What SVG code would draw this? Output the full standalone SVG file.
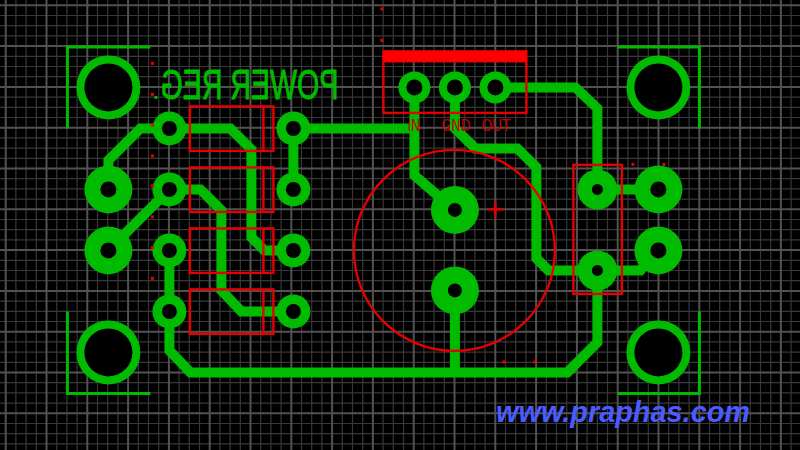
<svg xmlns="http://www.w3.org/2000/svg" width="800" height="450" viewBox="0 0 800 450">
<style>
.tr{fill:none;stroke:#00bb00;stroke-width:10;stroke-linejoin:miter}
.pad{fill:#00bb00}
.hole{fill:#000}
.sil{fill:none;stroke:#e60000;stroke-width:2.400}
.br{fill:none;stroke:#00bb00;stroke-width:3}
.dot{fill:#e60000}
.lbl{font-family:"DejaVu Sans",sans-serif;font-size:16px;fill:#c80000}
</style>
<rect width="800" height="450" fill="#000"/>
<path fill="none" stroke="#383838" stroke-width="1.2" d="M15.9 0V450M26.100 0V450M36.300 0V450M56.700 0V450M66.900 0V450M77.100 0V450M97.500 0V450M107.700 0V450M117.900 0V450M138.300 0V450M148.500 0V450M158.700 0V450M179.100 0V450M189.300 0V450M199.500 0V450M219.900 0V450M230.100 0V450M240.300 0V450M260.700 0V450M270.900 0V450M281.100 0V450M301.500 0V450M311.700 0V450M321.900 0V450M342.300 0V450M352.500 0V450M362.700 0V450M383.100 0V450M393.300 0V450M403.500 0V450M423.900 0V450M434.100 0V450M444.300 0V450M464.700 0V450M474.900 0V450M485.100 0V450M505.500 0V450M515.700 0V450M525.900 0V450M546.300 0V450M556.500 0V450M566.700 0V450M587.100 0V450M597.300 0V450M607.500 0V450M627.900 0V450M638.100 0V450M648.300 0V450M668.700 0V450M678.900 0V450M689.100 0V450M709.500 0V450M719.700 0V450M729.900 0V450M750.300 0V450M760.500 0V450M770.700 0V450M791.100 0V450M0 15.500H800M0 25.700H800M0 35.900H800M0 56.300H800M0 66.500H800M0 76.700H800M0 97.100H800M0 107.300H800M0 117.500H800M0 137.900H800M0 148.100H800M0 158.300H800M0 178.700H800M0 188.900H800M0 199.100H800M0 219.500H800M0 229.700H800M0 239.900H800M0 260.300H800M0 270.500H800M0 280.700H800M0 301.100H800M0 311.300H800M0 321.500H800M0 341.900H800M0 352.100H800M0 362.300H800M0 382.700H800M0 392.900H800M0 403.100H800M0 423.500H800M0 433.700H800M0 443.900H800"/>
<path fill="none" stroke="#525252" stroke-width="2" d="M5.700 0V450M46.500 0V450M87.300 0V450M128.100 0V450M168.900 0V450M209.700 0V450M250.500 0V450M291.300 0V450M332.100 0V450M372.900 0V450M413.700 0V450M454.500 0V450M495.300 0V450M536.100 0V450M576.900 0V450M617.700 0V450M658.500 0V450M699.300 0V450M740.100 0V450M780.900 0V450M0 5.300H800M0 46.100H800M0 86.900H800M0 127.700H800M0 168.500H800M0 209.300H800M0 250.100H800M0 290.900H800M0 331.700H800M0 372.500H800M0 413.300H800"/>
<g transform="translate(0.400 0.400)">
<g id="connectors">
<path class="tr" d="M108 189V160L140 128H230L251 149V237L264 250H293"/>
<path class="tr" d="M108 250L169 189H200L221 210V290L241 311H293"/>
<path class="tr" d="M169 250V350L190 372H567L597 342V270"/>
<path class="tr" d="M454.500 290V372"/>
<path class="tr" d="M293 189V128H414"/>
<path class="tr" d="M454.500 210L414 175V87"/>
<path class="tr" d="M454.500 87V128L475 148H517L536 167V258L548 270H640L658 250"/>
<path class="tr" d="M495 87H575L597 108V189H658"/>
</g>
<g id="silkscreen-copper">
<path class="br" d="M150 46.500H67V128"/>
<path class="br" d="M617 46.500H699V128"/>
<path class="br" d="M67 311V393H150"/>
<path class="br" d="M617 393H699V311"/>
<text transform="translate(338 98.500) scale(-1 1)" textLength="178" lengthAdjust="spacingAndGlyphs" font-family="Liberation Sans, sans-serif" font-size="42" fill="#00bb00" stroke="#00bb00" stroke-width="0.9">POWER REG</text>
<rect x="154" y="95.500" width="3" height="3" fill="#00bb00"/>
</g>
<g id="M1"><circle class="pad" cx="108" cy="87" r="32"/><circle class="hole" cx="108" cy="87" r="24"/></g>
<g id="M2"><circle class="pad" cx="658" cy="87" r="32"/><circle class="hole" cx="658" cy="87" r="24"/></g>
<g id="M3"><circle class="pad" cx="108" cy="352" r="32"/><circle class="hole" cx="108" cy="352" r="24"/></g>
<g id="M4"><circle class="pad" cx="658" cy="352" r="32"/><circle class="hole" cx="658" cy="352" r="24"/></g>
<g id="J1"><circle class="pad" cx="108" cy="189" r="24"/><circle class="hole" cx="108" cy="189" r="8"/><circle class="pad" cx="108" cy="250" r="24"/><circle class="hole" cx="108" cy="250" r="8"/></g>
<g id="J2"><circle class="pad" cx="658" cy="189" r="24"/><circle class="hole" cx="658" cy="189" r="8"/><circle class="pad" cx="658" cy="250" r="24"/><circle class="hole" cx="658" cy="250" r="8"/></g>
<g id="R1"><circle class="pad" cx="169" cy="128" r="17"/><circle class="hole" cx="169" cy="128" r="7.500"/><circle class="pad" cx="293" cy="128" r="17"/><circle class="hole" cx="293" cy="128" r="7.500"/></g>
<g id="R2"><circle class="pad" cx="169" cy="189" r="17"/><circle class="hole" cx="169" cy="189" r="7.500"/><circle class="pad" cx="293" cy="189" r="17"/><circle class="hole" cx="293" cy="189" r="7.500"/></g>
<g id="R3"><circle class="pad" cx="169" cy="250" r="17"/><circle class="hole" cx="169" cy="250" r="7.500"/><circle class="pad" cx="293" cy="250" r="17"/><circle class="hole" cx="293" cy="250" r="7.500"/></g>
<g id="R4"><circle class="pad" cx="169" cy="311" r="17"/><circle class="hole" cx="169" cy="311" r="7.500"/><circle class="pad" cx="293" cy="311" r="17"/><circle class="hole" cx="293" cy="311" r="7.500"/></g>
<g id="U1"><circle class="pad" cx="414" cy="87" r="16"/><circle class="hole" cx="414" cy="87" r="8"/><circle class="pad" cx="454.500" cy="87" r="16"/><circle class="hole" cx="454.500" cy="87" r="8"/><circle class="pad" cx="495" cy="87" r="16"/><circle class="hole" cx="495" cy="87" r="8"/></g>
<g id="C1"><circle class="pad" cx="454.500" cy="209.500" r="24"/><circle class="hole" cx="454.500" cy="209.500" r="7"/><circle class="pad" cx="454.500" cy="290" r="24"/><circle class="hole" cx="454.500" cy="290" r="7"/></g>
<g id="C2"><circle class="pad" cx="597" cy="189" r="20"/><circle class="hole" cx="597" cy="189" r="5.500"/><circle class="pad" cx="597" cy="270" r="20"/><circle class="hole" cx="597" cy="270" r="5.500"/></g>
<g id="outlines">
<rect class="sil" x="189.500" y="106" width="83.500" height="44.500"/><path class="sil" d="M263 106V150.500"/>
<rect class="sil" x="189.500" y="167" width="83.500" height="44.500"/><path class="sil" d="M263 167V211.500"/>
<rect class="sil" x="189.500" y="228" width="83.500" height="44.500"/><path class="sil" d="M263 228V272.500"/>
<rect class="sil" x="189.500" y="289" width="83.500" height="44.500"/><path class="sil" d="M263 289V333.500"/>
<rect class="sil" x="383" y="51" width="143" height="61.500"/>
<rect x="383" y="50.500" width="143" height="11.500" fill="#ff0000"/>
<circle class="sil" cx="454" cy="250" r="100.500"/>
<path class="sil" d="M487 209H503M495 201V217"/>
<rect class="sil" x="573" y="164.500" width="48.500" height="129"/>
<rect class="dot" x="380" y="7" width="3" height="3"/><rect class="dot" x="380" y="38.500" width="3" height="3"/>
<rect class="dot" x="150.500" y="61.500" width="3" height="3"/><rect class="dot" x="150.500" y="92.500" width="3" height="3"/><rect class="dot" x="150.500" y="123" width="3" height="3"/><rect class="dot" x="150.500" y="154" width="3" height="3"/><rect class="dot" x="150.500" y="184" width="3" height="3"/><rect class="dot" x="150.500" y="215" width="3" height="3"/><rect class="dot" x="150.500" y="245.500" width="3" height="3"/><rect class="dot" x="150.500" y="276.500" width="3" height="3"/>
<rect class="dot" x="631" y="162.500" width="3" height="3"/><rect class="dot" x="662" y="162.500" width="3" height="3"/><rect class="dot" x="502" y="360" width="3" height="3"/><rect class="dot" x="533" y="360" width="3" height="3"/>
<text class="lbl" x="407" y="131" textLength="13" lengthAdjust="spacingAndGlyphs">IN</text>
<text class="lbl" x="441" y="131" textLength="29" lengthAdjust="spacingAndGlyphs">GND</text>
<text class="lbl" x="481" y="131" textLength="29" lengthAdjust="spacingAndGlyphs">OUT</text>
</g>
</g>
<text x="496" y="422" textLength="254" lengthAdjust="spacingAndGlyphs" font-family="Liberation Sans, sans-serif" font-weight="700" font-style="italic" font-size="29" fill="#4a5cff">www.praphas.com</text>
</svg>
